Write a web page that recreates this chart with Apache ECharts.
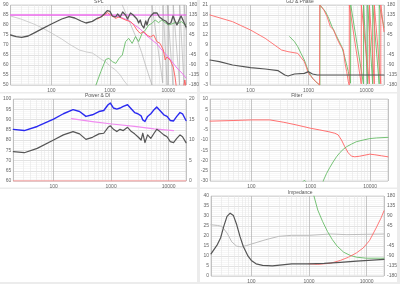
<!DOCTYPE html>
<html>
<head>
<meta charset="utf-8">
<script src="https://cdn.jsdelivr.net/npm/echarts@6/dist/echarts.min.js"></script>
<style>
  html, body { margin: 0; padding: 0; background: #fff; }
  #chart { width: 400px; height: 284px; }
</style>
</head>
<body>
<div id="chart"></div>
<script>
// frequency grid (Hz)
const majorFreqs = [100, 1000, 10000];
const minorFreqs = [30, 40, 50, 60, 70, 80, 90, 200, 300, 400, 500, 600, 700, 800, 900,
  2000, 3000, 4000, 5000, 6000, 7000, 8000, 9000];

// SPL panel (dB, phase deg)
const splTotal = [[20,75],[25,74.2],[31,73.8],[40,74.5],[52,76.2],[70,78.2],[100,80.5],[150,83],[200,84.2],[250,83.5],[320,82],[390,81],[500,81.8],[620,83.5],[700,84],[800,85.5],[900,87.2],[1000,86.8],[1100,84.5],[1250,84],[1350,85.5],[1500,84],[1650,86.5],[1850,85],[2000,83],[2250,86],[2500,85],[2900,83],[3100,81],[3300,82.5],[3500,80],[3800,78.5],[4100,82],[4300,80],[4600,83],[5000,84.5],[5600,86],[6000,85.5],[6400,86],[7000,84],[7500,84.5],[8200,82.5],[9000,82],[10000,80.5],[11000,81],[12000,84.5],[13000,82],[14000,80],[15500,83],[16500,84.5],[18000,82],[20000,79]];
const splWoofer = [[615,83],[800,85],[910,86.2],[1030,85],[1250,83.3],[1430,84],[1850,82.5],[2250,81.7],[2560,80],[2900,77.5],[3300,75.8],[3800,76.7],[4300,75],[4900,74],[5600,75],[6350,71.7],[7200,70.8],[8200,67.5],[8800,62.5],[9400,64],[10000,65],[10700,62.5],[12100,59],[13000,54],[13800,48],[17500,45],[18500,50],[19100,52.5],[20000,49]];
const splTweeter = [[577,50],[700,56.7],[850,62.8],[960,63.3],[1100,61.7],[1260,60.8],[1430,63.3],[1630,65],[1850,71.7],[2100,73.3],[2400,70.8],[2740,74.2],[3100,71.7],[3550,75.8],[4040,77.5],[4600,80],[5220,80.8],[5950,82.5],[6780,81.2],[7720,82.5],[8790,81.2],[10000,80],[11400,80.5],[12970,81.2],[14760,80.8],[16800,81.7],[19100,80],[20000,80.5]];
const splFlat = [[20,85],[20000,85]];
const splTarget = [[20,85],[1000,85],[1500,84],[2000,82.5],[2500,80.5],[3300,78],[4300,74.5],[5000,73],[6400,70.5],[8000,67],[10000,64],[12000,61],[14000,58.5],[17000,56],[20000,53.5]];
const splListen = [[20,84.5],[30,83],[50,80.5],[70,78.5],[100,76],[150,73],[200,70.5],[300,67.5],[400,66.5],[500,66],[600,64.5],[700,63],[850,61.5],[1000,59.5],[1250,57.5],[1500,55],[1750,52],[2000,50],[2200,47]];
const splPhase = [[1626,180],[2000,125],[2500,65],[3000,15],[3500,-35],[4000,-85],[4600,-135],[5230,-180],[5240,180],[8000,-170],[8100,180],[9500,-180],[9600,180],[12000,-180],[12100,180],[15500,-180],[15600,180],[18500,-180],[18600,180],[20000,70]];

// GD & Phase panel (ms, phase deg)
const gdTotal = [[20,4.5],[29,4],[49,3],[100,2.2],[179,1.8],[300,1.3],[390,0],[443,-0.3],[573,0.3],[846,0.5],[1000,1],[1170,0.3],[1420,0],[3000,0],[20000,0]];
const phaseWoofer = [[20,135],[49,105],[100,67.5],[179,30],[342,-22.5],[443,-30],[652,-37.5],[846,-75],[1000,-127.5],[1250,-157.5],[1550,-180],[1560,180],[1615,175],[1837,157.5],[2090,127.5],[2378,82.5],[2709,67.5],[3083,30],[3509,0],[3993,-22.5],[4259,-82.5],[4543,-120],[4846,-165],[5036,-180],[5050,180],[8100,-175],[8130,180],[11200,-175],[11240,180],[13600,-175],[13650,180],[17600,-175],[17660,180],[20000,60]];
const phaseTweeter = [[472,37.5],[573,15],[652,-7.5],[742,-37.5],[846,-67.5],[1000,-120],[1170,-150],[1420,-172],[1570,-180],[1580,180],[1650,175],[1960,150],[2230,120],[2540,82],[2890,52],[3290,22],[3740,-7.5],[4260,-60],[4850,-120],[5300,-172],[5350,180],[8850,-175],[8890,180],[10450,-175],[10500,180],[12750,-175],[12790,180],[16500,-175],[16560,180],[20000,80]];

// Power & DI panel (dB, DI dB)
const powerBlue = [[20,85.2],[31,84.6],[52,86.6],[100,90.2],[148,92.8],[218,94.8],[283,93.9],[365,91.5],[474,92.3],[615,93.9],[745,94.4],[885,97.2],[970,98],[1100,95.6],[1256,95.1],[1430,95.6],[1626,96.4],[1930,97.2],[2250,95.1],[2560,93.4],[2915,92.8],[3318,91.8],[3550,89.8],[3870,89],[4300,91.5],[4895,92.8],[5573,94.8],[6200,96.1],[7050,94.4],[8230,92.3],[9370,91.5],[10670,89.5],[12150,89.3],[13830,91.5],[15750,93.4],[17400,92.8],[20000,89.5]];
const powerGray = [[20,74.3],[31,73.8],[52,75.9],[100,80],[148,82.5],[218,84.1],[283,83],[365,80.3],[474,81.3],[615,83],[745,83.3],[885,86.2],[970,86.9],[1100,85.2],[1256,84.1],[1430,85.2],[1626,84.6],[1930,86.2],[2250,84.1],[2560,83],[2915,81.6],[3318,80],[3550,83.3],[3870,78.7],[4300,82.5],[4895,80.8],[5573,83.3],[6200,85.2],[7050,84.1],[8230,82.5],[9370,81.6],[10670,79.2],[12150,78.7],[13830,80.8],[15750,82.5],[17400,81.6],[20000,78.7]];
const diLine = [[204,15.2],[474,14.5],[1033,13.9],[2560,13.3],[5573,12.7],[12150,12.3]];
const diFloor = [[20,60],[20000,60]];

// Filter panel (dB)
const filterLow = [[20,-0.8],[49,-0.5],[100,-0.2],[204,-0.2],[342,-1.3],[502,-2.3],[742,-3.4],[1000,-4.3],[1420,-5.1],[1960,-5.9],[2540,-6.7],[2890,-7.5],[3290,-10],[3740,-13.3],[4260,-16.2],[4850,-17.9],[5520,-18.2],[6700,-17.9],[8130,-17.4],[9890,-16.9],[12000,-17.2],[15500,-17.7],[20000,-18.2]];
const filterHigh = [[700,-31],[780,-29.6],[860,-31],[900,-40],[1500,-40],[1615,-30],[1837,-26.4],[2090,-23.4],[2378,-20.7],[2709,-18.2],[3083,-16.2],[3509,-14.6],[3993,-13.3],[4846,-12],[5900,-10.8],[7660,-10],[9890,-9.3],[12800,-9],[20000,-8.7]];

// Impedance panel (ohm, phase deg)
const impTotal = [[20,11.1],[25.8,15.7],[29.3,19],[33.3,24.8],[37.9,29.8],[43,31.4],[49,30.2],[55.9,25.6],[63.6,19.8],[72.4,14.9],[87.9,9.9],[100,7.8],[121,6.1],[157,5.3],[232,5.1],[342,5.6],[502,6.1],[1000,6.1],[1837,6.3],[3509,6.8],[6700,7.4],[20000,8.3]];
const impPhase = [[20,50.6],[25.8,47.6],[31,43.1],[37.9,13.4],[46,-26.8],[55.9,-46],[67.9,-49],[82.4,-43],[107,-34],[179,-16.4],[300,-1.5],[502,3],[1000,3],[2378,9],[4543,6],[20000,9]];
const impWoofer = [[1000,6.1],[1420,5.8],[2378,6.4],[3509,7.8],[4846,9.4],[6700,11.6],[8700,14],[11200,17.7],[14600,24],[17700,28.9],[20000,32.6]];
const impTweeter = [[1220,40],[1420,33],[1720,27.3],[2090,22.3],[2540,18.2],[3083,14.9],[3993,11.9],[5180,10.3],[6700,9.4],[9890,8.9],[20000,8.9]];

const panels = [
  { title: 'SPL', left: 10, top: 5, width: 176, height: 80, yl: [50, 90, 5], yr: [-180, 180, 45] },
  { title: 'GD & Phase', left: 210, top: 5, width: 178, height: 80, yl: [-3, 21, 3], yr: [-180, 180, 45] },
  { title: 'Power & DI', left: 10, top: 99, width: 176, height: 82, yl: [60, 100, 5], yr: [0, 20, 5] },
  { title: 'Filter', left: 210, top: 99, width: 178, height: 82, yl: [-30, 10, 5], yr: null },
  { title: 'Impedance', left: 211, top: 196, width: 177, height: 81, yl: [0, 40, 5], yr: [-180, 180, 45] }
];

const labelStyle = { fontSize: 5, color: '#666', fontFamily: 'Liberation Sans' };

const grids = [], xAxes = [], yAxes = [], series = [], graphics = [];
const yIndex = [];

// panel separators (drawn first so titles sit on top)
const sep = '#ececec';
[[197, 0, 3, 284], [397, 0, 3, 284], [0, 92, 400, 1.6], [0, 187.5, 400, 1.6], [0, 282, 400, 2]].forEach(r => {
  graphics.push({ type: 'rect', shape: { x: r[0], y: r[1], width: r[2], height: r[3] }, style: { fill: sep }, silent: true });
});

panels.forEach((p, i) => {
  grids.push({
    left: p.left, top: p.top, width: p.width, height: p.height,
    show: true, backgroundColor: '#fff', borderColor: '#ccc', borderWidth: 0.8
  });
  xAxes.push({
    type: 'log', logBase: 10, gridIndex: i, min: 20, max: 20000,
    axisLine: { show: false }, axisTick: { show: false },
    axisLabel: {
      ...labelStyle, margin: 3,
      formatter: v => majorFreqs.includes(Math.round(v)) ? String(Math.round(v)) : ''
    },
    splitLine: { show: true, lineStyle: { color: '#b8b8b8', width: 0.8 } }
  });
  const li = yAxes.length;
  yAxes.push({
    type: 'value', gridIndex: i, position: 'left',
    min: p.yl[0], max: p.yl[1], interval: p.yl[2],
    axisLine: { show: false }, axisTick: { show: false },
    axisLabel: { ...labelStyle, margin: 2 },
    splitLine: { lineStyle: { color: '#cfcfcf', width: 0.6 } },
    minorSplitLine: { show: true, lineStyle: { color: '#efefef', width: 0.5 } },
    minorTick: { splitNumber: 5 }
  });
  let ri = li;
  if (p.yr) {
    ri = yAxes.length;
    yAxes.push({
      type: 'value', gridIndex: i, position: 'right',
      min: p.yr[0], max: p.yr[1], interval: p.yr[2],
      axisLine: { show: false }, axisTick: { show: false },
      axisLabel: { ...labelStyle, margin: 3 },
      splitLine: { show: false }
    });
  }
  yIndex.push([li, ri]);
  // minor vertical grid lines, kept under the curves
  series.push({
    type: 'line', xAxisIndex: i, yAxisIndex: li, data: [], silent: true, z: 1,
    markLine: {
      silent: true, symbol: 'none', label: { show: false }, z: 1,
      lineStyle: { color: '#e6e6e6', width: 0.6, type: 'solid' },
      data: minorFreqs.map(f => ({ xAxis: f }))
    }
  });
  graphics.push({
    type: 'text', left: p.left + p.width / 2 - p.title.length * 1.3, top: p.top - 5.5,
    style: { text: p.title, fontSize: 5, fill: '#555', fontFamily: 'Liberation Sans' }
  });
});

function line(data, panel, side, color, width) {
  return {
    type: 'line', xAxisIndex: panel, yAxisIndex: yIndex[panel][side], data: data,
    showSymbol: false, symbol: 'none', silent: true, z: 3,
    lineStyle: { color: color, width: width, join: 'round', cap: 'round' }
  };
}

// SPL
series.push(line(splListen, 0, 0, '#c4c4c4', 0.8));
series.push(line(splPhase, 0, 1, '#a8a8a8', 0.6));
series.push(line(splFlat, 0, 0, '#ee55ee', 1.2));
series.push(line(splTarget, 0, 0, '#ee77ee', 1));
series.push(line(splTweeter, 0, 0, '#66bb66', 0.9));
series.push(line(splWoofer, 0, 0, '#ff5a5a', 0.9));
series.push(line(splTotal, 0, 0, '#555555', 1.3));
// GD & Phase
series.push(line(phaseTweeter, 1, 1, '#66bb66', 0.9));
series.push(line(phaseWoofer, 1, 1, '#ff6a6a', 0.9));
series.push(line(gdTotal, 1, 0, '#555555', 1.2));
// Power & DI
series.push(line(diFloor, 2, 0, '#ff8888', 1));
series.push(line(diLine, 2, 1, '#f08cf0', 1.2));
series.push(line(powerGray, 2, 0, '#555555', 1.2));
series.push(line(powerBlue, 2, 0, '#2a2af0', 1.4));
// Filter
series.push(line(filterLow, 3, 0, '#ff7070', 1));
series.push(line(filterHigh, 3, 0, '#66bb66', 0.9));
// Impedance
series.push(line(impPhase, 4, 1, '#bdbdbd', 1));
series.push(line(impTweeter, 4, 0, '#66bb66', 0.9));
series.push(line(impWoofer, 4, 0, '#ff6a6a', 0.9));
series.push(line(impTotal, 4, 0, '#555555', 1.2));

const chart = echarts.init(document.getElementById('chart'), null, { renderer: 'canvas' });
chart.setOption({
  animation: false,
  backgroundColor: '#fff',
  grid: grids,
  xAxis: xAxes,
  yAxis: yAxes,
  series: series,
  graphic: graphics
});
</script>
</body>
</html>
